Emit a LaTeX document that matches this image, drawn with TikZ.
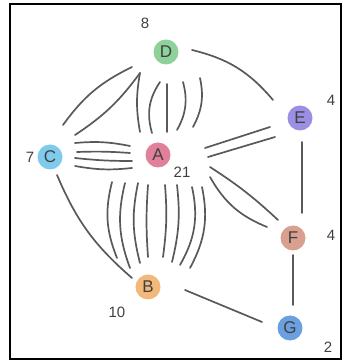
\documentclass[tikz,border=0pt]{standalone}
\usepackage{fontspec}
\setmainfont{Liberation Sans}
\usepackage{tikz}

\definecolor{dgreen}{HTML}{8FD19B}
\definecolor{epurple}{HTML}{9A8FE3}
\definecolor{ccyan}{HTML}{7FCBEC}
\definecolor{apink}{HTML}{E0809A}
\definecolor{fsalmon}{HTML}{D9A090}
\definecolor{borange}{HTML}{F2B97A}
\definecolor{gblue}{HTML}{6A9FE0}

\begin{document}
\begin{tikzpicture}[
        x=1pt, y=1pt,
        % Styles for the coloured vertices, the edges and the degree labels
        vertex/.style={circle, minimum size=25pt, inner sep=0pt, font=\fontsize{17}{17}\selectfont, text=black!75},
        edge/.style={draw=black!65, line width=1.7pt, line cap=round},
        degree/.style={font=\fontsize{15}{15}\selectfont, text=black!75}
    ]

    \useasboundingbox (0,0) rectangle (344,361);
    \draw[line width=2pt] (10,2) rectangle (341,357);

    % Draw the vertices
    \node[vertex, fill=dgreen] (D) at (166,309) {D};
    \node[vertex, fill=apink] (A) at (158,206) {A};
    \node[vertex, fill=ccyan] (C) at (50,204) {C};
    \node[vertex, fill=epurple] (E) at (300,243) {E};
    \node[vertex, fill=fsalmon] (F) at (293,123) {F};
    \node[vertex, fill=borange] (B) at (148,74) {B};
    \node[vertex, fill=gblue] (G) at (290,33) {G};

    % Degree of each vertex
    \node[degree] (degD) at (145,338) {8};
    \node[degree] (degE) at (331,261) {4};
    \node[degree] (degC) at (30,204) {7};
    \node[degree] (degA) at (182,189) {21};
    \node[degree] (degF) at (331,126) {4};
    \node[degree] (degB) at (117,49) {10};
    \node[degree] (degG) at (328,14) {2};

    % C -- D
    \draw[edge] ([shift={(13,32)}]C.center) to[bend left=14] ([shift={(-34,-15)}]D.center);
    \draw[edge] ([shift={(25,22)}]C.center) to[bend right=10] ([shift={(-26,-21)}]D.center);

    % D -- E
    \draw[edge] ([shift={(26,2)}]D.center) to[bend left=18] ([shift={(-27,18)}]E.center);

    % D -- A
    \draw[edge] ([shift={(-26,-21)}]D.center) to[bend right=10] ([shift={(-18,23)}]A.center);
    \draw[edge] ([shift={(-6,-30)}]D.center) to[bend right=25] ([shift={(-6,22)}]A.center);
    \draw[edge] ([shift={(1,-32)}]D.center) -- ([shift={(9,23)}]A.center);
    \draw[edge] ([shift={(17,-30)}]D.center) to[bend left=22] ([shift={(19,25)}]A.center);
    \draw[edge] ([shift={(34,-26)}]D.center) to[bend left=20] ([shift={(35,28)}]A.center);

    % C -- A
    \draw[edge] ([shift={(25,14)}]C.center) to[bend left=8] ([shift={(-28,9)}]A.center);
    \draw[edge] ([shift={(27,5)}]C.center) to[bend left=3] ([shift={(-28,2)}]A.center);
    \draw[edge] ([shift={(25,-1)}]C.center) to[bend right=3] ([shift={(-26,-6)}]A.center);
    \draw[edge] ([shift={(25,-9)}]C.center) to[bend right=8] ([shift={(-26,-13)}]A.center);

    % A -- E
    \draw[edge] ([shift={(47,7)}]A.center) -- ([shift={(-30,-9)}]E.center);
    \draw[edge] ([shift={(50,-2)}]A.center) -- ([shift={(-25,-19)}]E.center);

    % A -- F
    \draw[edge] ([shift={(52,-12)}]A.center) to[bend left=5] ([shift={(-15,18)}]F.center);
    \draw[edge] ([shift={(52,-22)}]A.center) to[bend right=19] ([shift={(-26,11)}]F.center);

    % A -- B
    \draw[edge] ([shift={(-46,-27)}]A.center) to[bend right=18] ([shift={(-31,29)}]B.center);
    \draw[edge] ([shift={(-33,-28)}]A.center) to[bend right=17] ([shift={(-18,19)}]B.center);
    \draw[edge] ([shift={(-20,-28)}]A.center) to[bend right=13] ([shift={(-8,24)}]B.center);
    \draw[edge] ([shift={(-10,-30)}]A.center) to[bend right=4] ([shift={(0,30)}]B.center);
    \draw[edge] ([shift={(7,-30)}]A.center) to[bend left=6] ([shift={(15,30)}]B.center);
    \draw[edge] ([shift={(19,-30)}]A.center) to[bend left=10] ([shift={(24,25)}]B.center);
    \draw[edge] ([shift={(34,-32)}]A.center) to[bend left=21] ([shift={(32,22)}]B.center);
    \draw[edge] ([shift={(44,-32)}]A.center) to[bend left=20] ([shift={(42,19)}]B.center);

    % C -- B, E -- F, F -- G, B -- G
    \draw[edge] ([shift={(7,-18)}]C.center) to[bend right=13] ([shift={(-16,9)}]B.center);
    \draw[edge] ([shift={(2,-24)}]E.center) -- ([shift={(9,25)}]F.center);
    \draw[edge] ([shift={(0,-17)}]F.center) -- ([shift={(3,23)}]G.center);
    \draw[edge] ([shift={(37,-3)}]B.center) -- ([shift={(-28,6)}]G.center);

\end{tikzpicture}
\end{document}
